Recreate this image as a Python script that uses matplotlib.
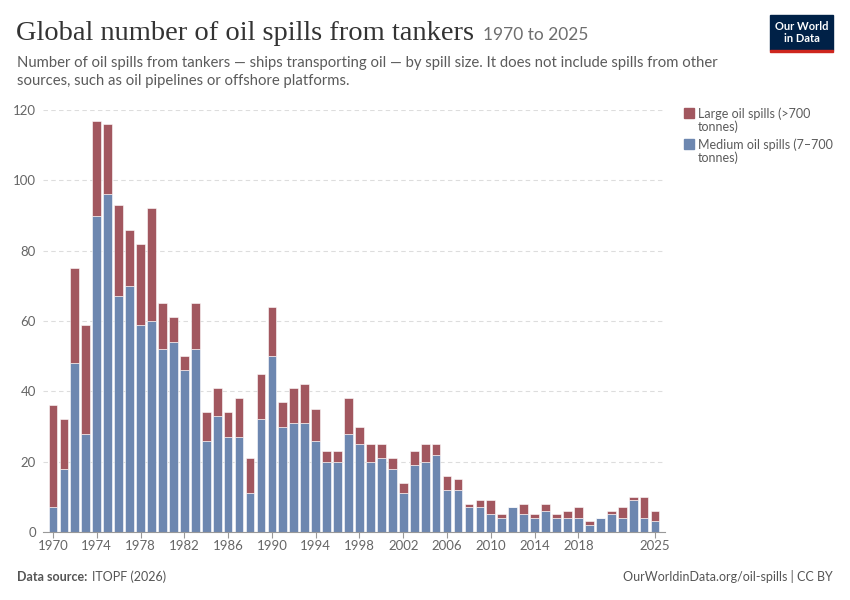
import numpy as np
import matplotlib
matplotlib.use("Agg")
import matplotlib.pyplot as plt
from matplotlib.patches import Rectangle

plt.rcParams['font.family'] = ['Lato', 'DejaVu Sans']

years = list(range(1970, 2026))
total = [36, 32, 75, 59, 117, 116, 93, 86, 82, 92,
         65, 61, 50, 65, 34, 41, 34, 38, 21, 45,
         64, 37, 41, 42, 35, 23, 23, 38, 30, 25,
         25, 21, 14, 23, 25, 25, 16, 15, 8, 9,
         9, 5, 7, 8, 5, 8, 5, 6, 7, 3,
         4, 6, 7, 10, 10, 6]
medium = [7, 18, 48, 28, 90, 96, 67, 70, 59, 60,
          52, 54, 46, 52, 26, 33, 27, 27, 11, 32,
          50, 30, 31, 31, 26, 20, 20, 28, 25, 20,
          21, 18, 11, 19, 20, 22, 12, 12, 7, 7,
          5, 4, 7, 5, 4, 6, 4, 4, 4, 2,
          4, 5, 4, 9, 4, 3]
large = [t - m for t, m in zip(total, medium)]
xticks = [1970, 1974, 1978, 1982, 1986, 1990, 1994, 1998, 2002, 2006,
          2010, 2014, 2018, 2025]
yticks = [0, 20, 40, 60, 80, 100, 120]

blue = '#6D87B0'
red = '#A2575F'
grey = '#666666'

fig = plt.figure(figsize=(8.5, 6), dpi=100)
ax = fig.add_axes([43 / 850, 1 - 532 / 600, (665 - 43) / 850, (532 - 110) / 600])

ax.bar(years, medium, width=0.8, color=blue, edgecolor='white', linewidth=0.4, zorder=3)
ax.bar(years, large, bottom=medium, width=0.8, color=red, edgecolor='white', linewidth=0.4, zorder=3)

ax.set_xlim(1969.09, 2025.91)
ax.set_ylim(0, 120)
ax.set_yticks(yticks)
ax.set_xticks(xticks)
ax.set_xticklabels([str(x) for x in xticks])
ax.tick_params(axis='y', length=0, pad=5, labelsize=9.5, labelcolor=grey)
ax.tick_params(axis='x', length=4, width=0.8, color='#999999', pad=2, labelsize=9.5, labelcolor=grey)
ax.grid(axis='y', color='#dddddd', linestyle=(0, (4, 3)), linewidth=0.8, zorder=0)
for s in ['top', 'right', 'left']:
    ax.spines[s].set_visible(False)
ax.spines['bottom'].set_color('#999999')
ax.spines['bottom'].set_linewidth(0.8)
ax.spines['bottom'].set_zorder(4)

# titles
title = fig.text(16 / 850, 1 - 40 / 600, 'Global number of oil spills from tankers', fontsize=20.5,
                 family=['Liberation Serif', 'DejaVu Serif'], color='#333333', va='baseline')
fig.canvas.draw()
bb = title.get_window_extent()
fig.text((bb.x1 + 9) / 850, 1 - 40 / 600, '1970 to 2025', fontsize=12.5, color='#6e6e6e', va='baseline')
fig.text(17 / 850, 1 - 67 / 600,
         'Number of oil spills from tankers — ships transporting oil — by spill size. It does not include spills from other',
         fontsize=10.7, color='#5b5b5b', va='baseline')
fig.text(17 / 850, 1 - 85 / 600, 'sources, such as oil pipelines or offshore platforms.',
         fontsize=10.7, color='#5b5b5b', va='baseline')

# legend
fig.patches.append(Rectangle((684 / 850, 1 - 118 / 600), 10 / 850, 10 / 600,
                             transform=fig.transFigure, color=red))
fig.text(698 / 850, 1 - 118 / 600, 'Large oil spills (>700', fontsize=9, color='#5b5b5b', va='baseline')
fig.text(698 / 850, 1 - 131 / 600, 'tonnes)', fontsize=9, color='#5b5b5b', va='baseline')
fig.patches.append(Rectangle((684 / 850, 1 - 149 / 600), 10 / 850, 10 / 600,
                             transform=fig.transFigure, color=blue))
fig.text(698 / 850, 1 - 149 / 600, 'Medium oil spills (7–700', fontsize=9, color='#5b5b5b', va='baseline')
fig.text(698 / 850, 1 - 162 / 600, 'tonnes)', fontsize=9, color='#5b5b5b', va='baseline')

# logo
fig.patches.append(Rectangle((770 / 850, 1 - 50 / 600), 63 / 850, 35 / 600,
                             transform=fig.transFigure, color='#002147'))
fig.patches.append(Rectangle((770 / 850, 1 - 52 / 600), 63 / 850, 2.5 / 600,
                             transform=fig.transFigure, color='#CE261E'))
fig.text(801.5 / 850, 1 - 32.5 / 600, 'Our World\nin Data', fontsize=8, color='white',
         ha='center', va='center', linespacing=1.05, fontweight='bold')

# footer
fig.text(17 / 850, 1 - 581 / 600, 'Data source:', fontsize=9, color='#555555',
         va='baseline', fontweight='bold')
fig.text(92 / 850, 1 - 581 / 600, 'ITOPF (2026)', fontsize=9, color='#555555', va='baseline')
fig.text(833 / 850, 1 - 581 / 600, 'OurWorldinData.org/oil-spills | CC BY', fontsize=9,
         color='#555555', va='baseline', ha='right')

fig.savefig('out.png', dpi=100)
